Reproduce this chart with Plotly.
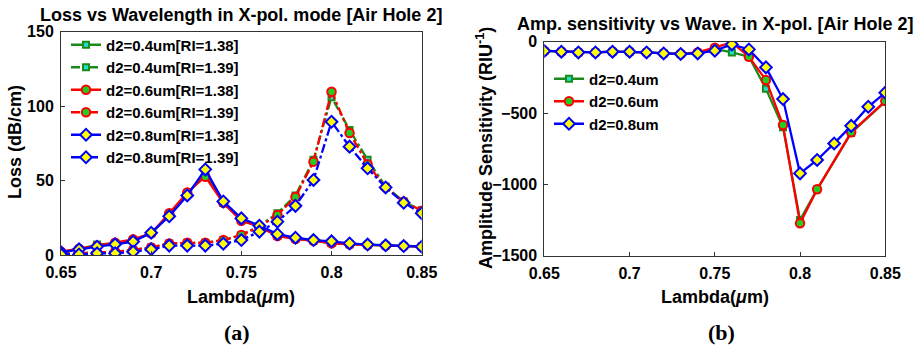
import plotly.graph_objects as go

lam = [0.65, 0.66, 0.67, 0.68, 0.69, 0.70, 0.71, 0.72, 0.73, 0.74, 0.75,
       0.76, 0.77, 0.78, 0.79, 0.80, 0.81, 0.82, 0.83, 0.84, 0.85]

# Loss (dB/cm)
loss_04_138 = [2.0, 4.0, 7.0, 8.0, 10.0, 14.5, 27.0, 41.0, 55.0, 35.0, 23.5, 19.0, 13.0, 11.0, 9.5, 8.0, 7.3, 6.8, 6.3, 6.0, 5.7]
loss_04_139 = [0.7, 1.1, 1.5, 2.2, 3.4, 5.1, 7.8, 8.3, 8.3, 10.0, 13.4, 19.5, 28.0, 40.0, 64.0, 106.0, 84.0, 64.0, 46.0, 36.0, 30.0]
loss_06_138 = [2.2, 4.2, 6.0, 8.3, 10.5, 14.5, 28.0, 42.0, 52.6, 35.0, 23.0, 19.0, 12.8, 10.7, 9.6, 7.8, 7.2, 6.7, 6.3, 6.0, 5.6]
loss_06_139 = [0.7, 1.1, 1.5, 2.2, 3.4, 5.1, 7.8, 8.3, 8.3, 10.0, 13.4, 19.0, 26.9, 39.0, 62.7, 109.7, 82.0, 61.0, 45.4, 35.8, 29.8]
loss_08_138 = [1.8, 3.8, 5.6, 7.2, 9.0, 15.0, 26.0, 40.0, 57.5, 36.0, 24.6, 19.7, 14.0, 11.6, 10.0, 9.2, 7.8, 7.0, 6.5, 6.0, 5.6]
loss_08_139 = [0.4, 0.4, 1.1, 1.1, 2.2, 3.8, 6.3, 6.3, 6.3, 7.6, 10.0, 15.7, 22.4, 33.0, 50.4, 89.5, 72.8, 58.2, 45.4, 35.1, 28.0]

# Amplitude sensitivity (RIU^-1)
lam_s = [0.65, 0.66, 0.67, 0.68, 0.69, 0.70, 0.71, 0.72, 0.73, 0.74, 0.75,
         0.76, 0.77, 0.78, 0.79, 0.80, 0.81, 0.83, 0.85]
sens_04 = [-65, -70, -75, -75, -70, -70, -75, -82, -86, -80, -50, -75, -105, -330, -600, -1250, -1035, -640, -420]
sens_06 = [-65, -70, -75, -75, -70, -70, -75, -82, -86, -75, -42, -5, -105, -269, -584, -1273, -1035, -635, -416]
lam_s8 = [0.65, 0.66, 0.67, 0.68, 0.69, 0.70, 0.71, 0.72, 0.73, 0.74, 0.75,
          0.76, 0.77, 0.78, 0.79, 0.80, 0.81, 0.82, 0.83, 0.84, 0.85]
sens_08 = [-65, -70, -75, -75, -70, -70, -75, -82, -86, -82, -63, -19, -54, -180, -402, -923, -829, -713, -590, -456, -357]

x_ticks = [0.65, 0.7, 0.75, 0.8, 0.85]
x_tick_text = ["0.65", "0.7", "0.75", "0.8", "0.85"]
loss_ticks = [0, 50, 100, 150]
sens_ticks = [0, -500, -1000, -1500]

FONT = "Liberation Sans"
GREEN = "#1a8a1a"
RED = "#ff0000"
BLUE = "#0000ff"
W, H = 919, 345

fig = go.Figure()

def add(x, y, name, color, dash, symbol, fill, xa, ya, legend, msize=7):
    fig.add_trace(go.Scatter(
        x=x, y=y, name=name, mode="lines+markers",
        line=dict(color=color, width=2.3, dash=dash),
        marker=dict(symbol=symbol, size=msize, color=fill,
                    line=dict(color=color, width=2)),
        xaxis=xa, yaxis=ya, legend=legend))

add(lam, loss_04_138, "d2=0.4um[RI=1.38]", GREEN, "solid", "square", "#22e0d0", "x", "y", "legend", 6)
add(lam, loss_04_139, "d2=0.4um[RI=1.39]", GREEN, "dashdot", "square", "#22e0d0", "x", "y", "legend", 6)
add(lam, loss_06_138, "d2=0.6um[RI=1.38]", RED, "solid", "circle", "#22cc22", "x", "y", "legend", 8.5)
add(lam, loss_06_139, "d2=0.6um[RI=1.39]", RED, "dashdot", "circle", "#22cc22", "x", "y", "legend", 8.5)
add(lam, loss_08_138, "d2=0.8um[RI=1.38]", BLUE, "solid", "diamond", "#ffff00", "x", "y", "legend", 9)
add(lam, loss_08_139, "d2=0.8um[RI=1.39]", BLUE, "dashdot", "diamond", "#ffff00", "x", "y", "legend", 9)

add(lam_s, sens_04, "d2=0.4um", GREEN, "solid", "square", "#22e0d0", "x2", "y2", "legend2", 6)
add(lam_s, sens_06, "d2=0.6um", RED, "solid", "circle", "#22cc22", "x2", "y2", "legend2", 8.5)
add(lam_s8, sens_08, "d2=0.8um", BLUE, "solid", "diamond", "#ffff00", "x2", "y2", "legend2", 9)

tickfont = dict(family=FONT, size=16, color="black", weight="bold")
axis_common = dict(showline=True, linecolor="#333", linewidth=1, mirror=True,
                   ticks="inside", ticklen=4, tickcolor="#333", showgrid=False,
                   zeroline=False, automargin=False, tickfont=tickfont,
                   ticklabelstandoff=3)

def px(x):
    return x / W

def py(y):
    return 1 - y / H

def ann(text, x, y, size=18, angle=0, family=FONT, bold=True):
    f = dict(family=family, size=size, color="black")
    if bold:
        f["weight"] = "bold"
    return dict(text=text, x=px(x), y=py(y), xref="paper", yref="paper",
                showarrow=False, xanchor="center", yanchor="middle",
                textangle=angle, font=f)

legend_font = dict(family=FONT, size=15, color="black", weight="bold")

fig.update_layout(
    width=W, height=H,
    margin=dict(l=0, r=0, t=0, b=0, autoexpand=False),
    paper_bgcolor="white", plot_bgcolor="white",
    xaxis=dict(domain=[px(61), px(421.7)], range=[0.65, 0.85], tickvals=x_ticks,
               ticktext=x_tick_text, anchor="y", **axis_common),
    yaxis=dict(domain=[py(255), py(31.7)], range=[0, 150], tickvals=loss_ticks,
               anchor="x", **axis_common),
    xaxis2=dict(domain=[px(544.3), px(885.3)], range=[0.65, 0.85], tickvals=x_ticks,
                ticktext=x_tick_text, anchor="y2", **axis_common),
    yaxis2=dict(domain=[py(255.7), py(41.7)], range=[-1500, 0], tickvals=sens_ticks,
                anchor="x2", **axis_common),
    legend=dict(x=px(66), y=py(28.5), xanchor="left", yanchor="top", bgcolor="rgba(0,0,0,0)",
                font=legend_font, itemwidth=30, tracegroupgap=0),
    legend2=dict(x=px(549), y=py(62.5), xanchor="left", yanchor="top", bgcolor="rgba(0,0,0,0)",
                 font=legend_font, itemwidth=30, tracegroupgap=0),
    annotations=[
        ann("Loss vs Wavelength in X-pol. mode [Air Hole 2]", 241, 15),
        ann("Amp. sensitivity vs Wave. in X-pol. [Air Hole 2]", 715, 24.5),
        ann("Loss (dB/cm)", 15, 142, angle=-90),
        ann("Lambda(<i>μ</i>m)", 241, 297),
        ann("Amplitude Sensitivity (RIU<sup>-1</sup>)", 484, 148, angle=-90),
        ann("Lambda(<i>μ</i>m)", 715, 297),
        ann("<b>(a)</b>", 237, 332, size=22, family="Liberation Serif", bold=False),
        ann("<b>(b)</b>", 721, 332, size=22, family="Liberation Serif", bold=False),
    ],
)

fig.write_html("out.html")
